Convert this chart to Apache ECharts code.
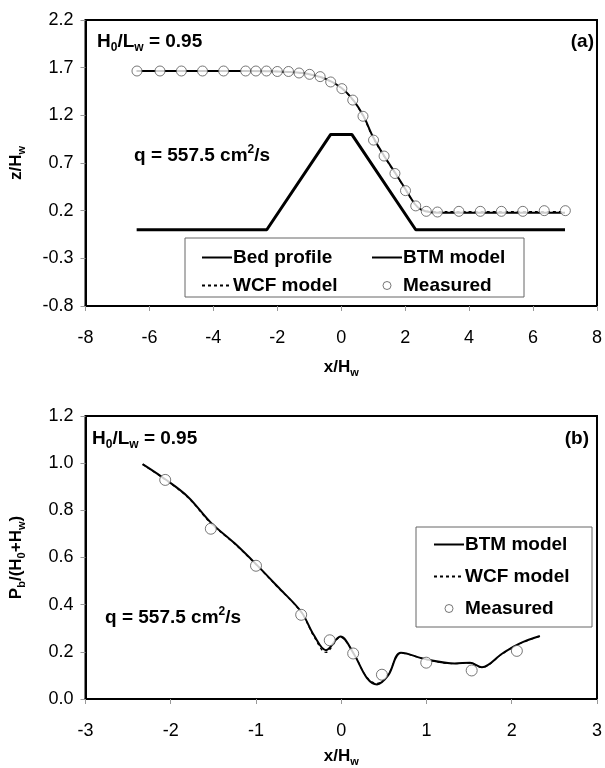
<!DOCTYPE html>
<html>
<head>
<meta charset="utf-8">
<script src="https://cdn.jsdelivr.net/npm/echarts@6/dist/echarts.min.js"></script>
<style>
  html, body { margin: 0; background: #fff; }
  #chart { width: 605px; height: 768px; }
</style>
</head>
<body>
<div id="chart"></div>
<script>
// (a) water surface over the weir
var bedX = [-6.4, -2.33, -0.33, 0.33, 2.33, 7.0];
var bedZ = [0, 0, 1, 1, 0, 0];
var btmXa = [-6.4, -3.0, -2.0, -1.5, -1.0, -0.5, 0.0, 0.4, 0.7, 1.0, 1.35, 1.7, 2.0, 2.3, 2.5, 2.8, 3.2, 7.0];
var btmZa = [1.665, 1.665, 1.66, 1.652, 1.632, 1.585, 1.49, 1.35, 1.19, 0.97, 0.77, 0.59, 0.43, 0.27, 0.21, 0.183, 0.178, 0.178];
var wcfXa = [-6.4, -3.0, -2.0, -1.5, -1.0, -0.5, 0.0, 0.4, 0.7, 1.0, 1.35, 1.7, 2.0, 2.3, 2.5, 2.8, 3.2, 7.0];
var wcfZa = [1.665, 1.665, 1.66, 1.65, 1.63, 1.58, 1.485, 1.345, 1.18, 0.96, 0.765, 0.585, 0.425, 0.27, 0.215, 0.19, 0.19, 0.19];
var measXa = [-6.39, -5.67, -5.0, -4.34, -3.68, -2.99, -2.67, -2.34, -2.0, -1.65, -1.32, -0.99, -0.66, -0.33, 0.02,
              0.36, 0.68, 1.01, 1.34, 1.68, 2.01, 2.33, 2.66, 3.01, 3.68, 4.35, 5.01, 5.68, 6.35, 7.01];
var measZa = [1.665, 1.665, 1.665, 1.665, 1.665, 1.665, 1.665, 1.665, 1.66, 1.66, 1.644, 1.63, 1.606, 1.55, 1.48,
              1.36, 1.19, 0.94, 0.773, 0.59, 0.41, 0.25, 0.193, 0.186, 0.193, 0.193, 0.193, 0.193, 0.2, 0.2];

// (b) bottom pressure
var btmXb = [-2.33, -2.065, -1.8, -1.53, -1.25, -1.0, -0.75, -0.47, -0.32, -0.18, -0.01,
             0.15, 0.3, 0.42, 0.55, 0.7, 1.0, 1.33, 1.51, 1.65, 1.89, 2.09, 2.33];
var btmPb = [0.996, 0.932, 0.858, 0.748, 0.66, 0.572, 0.478, 0.37, 0.27, 0.207, 0.265,
             0.19, 0.09, 0.062, 0.1, 0.196, 0.168, 0.151, 0.154, 0.135, 0.193, 0.235, 0.267];
var wcfXb = [-2.33, -2.065, -1.8, -1.53, -1.25, -1.0, -0.75, -0.47, -0.32, -0.18, -0.01,
             0.15, 0.3, 0.42, 0.55, 0.7, 1.0, 1.33, 1.51, 1.65, 1.89, 2.09, 2.33];
var wcfPb = [0.995, 0.93, 0.855, 0.745, 0.658, 0.57, 0.476, 0.368, 0.265, 0.198, 0.262,
             0.19, 0.092, 0.066, 0.104, 0.195, 0.167, 0.15, 0.152, 0.134, 0.192, 0.234, 0.266];
var measXb = [-2.065, -1.53, -1.0, -0.47, -0.135, 0.14, 0.477, 0.997, 1.53, 2.06];
var measPb = [0.929, 0.722, 0.565, 0.357, 0.249, 0.193, 0.103, 0.154, 0.121, 0.204];

function pairs(xs, ys) {
  return xs.map(function (x, i) { return [x, ys[i]]; });
}

var font = 'Liberation Sans, Arial, sans-serif';
var richBold = {
  a: { fontSize: 19, fontWeight: 'bold', fontFamily: font, color: '#000', lineHeight: 24 },
  s: { fontSize: 12, fontWeight: 'bold', fontFamily: font, color: '#000', lineHeight: 12, verticalAlign: 'bottom' },
  p: { fontSize: 12, fontWeight: 'bold', fontFamily: font, color: '#000', lineHeight: 12, verticalAlign: 'top' }
};
var richName = {
  a: { fontSize: 17, fontWeight: 'bold', fontFamily: font, color: '#000', lineHeight: 22 },
  s: { fontSize: 11, fontWeight: 'bold', fontFamily: font, color: '#000', lineHeight: 11, verticalAlign: 'bottom' }
};

function xAxisOf(idx, min, max, interval, gap) {
  return {
    gridIndex: idx, type: 'value', min: min, max: max, interval: interval,
    axisLine: { onZero: false, lineStyle: { color: '#000', width: 2 } },
    axisTick: { show: true, length: 5, lineStyle: { color: '#999', width: 1 } },
    axisLabel: { margin: 23, fontSize: 18, color: '#000', fontFamily: font },
    splitLine: { show: false },
    name: '{a|x/H}{s|w}', nameLocation: 'middle', nameGap: gap,
    nameTextStyle: { rich: richName }
  };
}
function yAxisOf(idx, min, max, interval, name, gap) {
  return {
    gridIndex: idx, type: 'value', min: min, max: max, interval: interval,
    axisLine: { onZero: false, lineStyle: { color: '#000', width: 2 } },
    axisTick: { show: true, length: 5, lineStyle: { color: '#999', width: 1 } },
    axisLabel: { margin: 12, fontSize: 18, color: '#000', fontFamily: font,
      formatter: function (v) { return v.toFixed(1); } },
    splitLine: { show: false },
    name: name, nameLocation: 'middle', nameRotate: 90, nameGap: gap,
    nameTextStyle: { rich: richName }
  };
}

// legend entries for lines: hide the dot that ECharts puts on line icons
function lineItem(name) {
  return { name: name, itemStyle: { color: 'rgba(0,0,0,0)', borderColor: 'rgba(0,0,0,0)', borderWidth: 0 } };
}
var measItem = { name: 'Measured', itemStyle: { color: '#fff', borderColor: '#555', borderWidth: 1 } };

var lineBase = { type: 'line', symbol: 'none', silent: true, smooth: 0.35 };
var measStyle = { color: '#fff', borderColor: '#555', borderWidth: 1 };
var legendText = { fontSize: 19, fontWeight: 'bold', color: '#000', fontFamily: font, padding: [0, 0, 0, -4] };

var chart = echarts.init(document.getElementById('chart'));
chart.setOption({
  animation: false,
  grid: [
    { left: 82, right: 4, top: 20, height: 286, show: true, borderColor: '#000', borderWidth: 2 },
    { left: 83, right: 2, top: 416, height: 286, show: true, borderColor: '#000', borderWidth: 2 }
  ],
  xAxis: [xAxisOf(0, -8, 8, 2, 50), xAxisOf(1, -3, 3, 1, 46)],
  yAxis: [
    yAxisOf(0, -0.8, 2.2, 0.5, '{a|z/H}{s|w}', 58),
    yAxisOf(1, 0, 1.2, 0.2, '{a|P}{s|b}{a|/(H}{s|0}{a|+H}{s|w}{a|)}', 58)
  ],
  legend: [
    { left: 196, top: 243, orient: 'vertical', itemGap: 9, itemWidth: 30, itemHeight: 8,
      selectedMode: false, textStyle: legendText, data: [lineItem('Bed profile'), lineItem('WCF model')] },
    { left: 366, top: 243, orient: 'vertical', itemGap: 9, itemWidth: 30, itemHeight: 8,
      selectedMode: false, textStyle: legendText, data: [lineItem('BTM model'), measItem] },
    { left: 428, top: 530, orient: 'vertical', itemGap: 13, itemWidth: 30, itemHeight: 8,
      selectedMode: false, textStyle: legendText,
      data: [lineItem('BTM model'), lineItem('WCF model'), measItem] }
  ],
  graphic: [
    { type: 'rect', z: 3, shape: { x: 185, y: 238, width: 339, height: 59 },
      style: { fill: '#fff', stroke: '#666', lineWidth: 1 } },
    { type: 'rect', z: 3, shape: { x: 416, y: 527, width: 176, height: 100 },
      style: { fill: '#fff', stroke: '#666', lineWidth: 1 } },
    { type: 'text', z: 10, x: 97, y: 42,
      style: { text: '{a|H}{s|0}{a|/L}{s|w}{a| = 0.95}', rich: richBold, verticalAlign: 'middle' } },
    { type: 'text', z: 10, x: 594, y: 42,
      style: { text: '{a|(a)}', rich: richBold, align: 'right', verticalAlign: 'middle' } },
    { type: 'text', z: 10, x: 134, y: 156,
      style: { text: '{a|q = 557.5 cm}{p|2}{a|/s}', rich: richBold, verticalAlign: 'middle' } },
    { type: 'text', z: 10, x: 92, y: 439,
      style: { text: '{a|H}{s|0}{a|/L}{s|w}{a| = 0.95}', rich: richBold, verticalAlign: 'middle' } },
    { type: 'text', z: 10, x: 589, y: 439,
      style: { text: '{a|(b)}', rich: richBold, align: 'right', verticalAlign: 'middle' } },
    { type: 'text', z: 10, x: 105, y: 618,
      style: { text: '{a|q = 557.5 cm}{p|2}{a|/s}', rich: richBold, verticalAlign: 'middle' } }
  ],
  series: [
    Object.assign({}, lineBase, { name: 'Bed profile', xAxisIndex: 0, yAxisIndex: 0, data: pairs(bedX, bedZ),
      smooth: false, lineStyle: { color: '#000', width: 3 }, itemStyle: { color: '#000' } }),
    Object.assign({}, lineBase, { name: 'BTM model', xAxisIndex: 0, yAxisIndex: 0, data: pairs(btmXa, btmZa),
      lineStyle: { color: '#000', width: 2 }, itemStyle: { color: '#000' } }),
    Object.assign({}, lineBase, { name: 'WCF model', xAxisIndex: 0, yAxisIndex: 0, data: pairs(wcfXa, wcfZa),
      lineStyle: { color: '#000', width: 1.3, type: [3, 3] }, itemStyle: { color: '#000' } }),
    { name: 'Measured', type: 'scatter', xAxisIndex: 0, yAxisIndex: 0, data: pairs(measXa, measZa),
      symbol: 'circle', symbolSize: 10, itemStyle: measStyle, z: 5, silent: true },
    Object.assign({}, lineBase, { name: 'BTM model', xAxisIndex: 1, yAxisIndex: 1, data: pairs(btmXb, btmPb),
      lineStyle: { color: '#000', width: 2 }, itemStyle: { color: '#000' } }),
    Object.assign({}, lineBase, { name: 'WCF model', xAxisIndex: 1, yAxisIndex: 1, data: pairs(wcfXb, wcfPb),
      lineStyle: { color: '#000', width: 1.3, type: [3, 3] }, itemStyle: { color: '#000' } }),
    { name: 'Measured', type: 'scatter', xAxisIndex: 1, yAxisIndex: 1, data: pairs(measXb, measPb),
      symbol: 'circle', symbolSize: 11, itemStyle: measStyle, z: 5, silent: true }
  ]
});
</script>
</body>
</html>
